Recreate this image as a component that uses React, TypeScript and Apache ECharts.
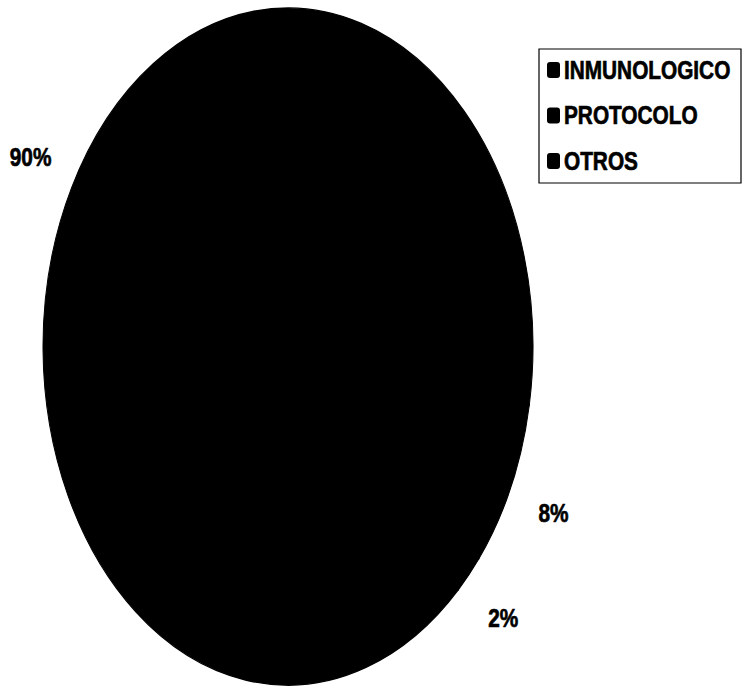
import { useEffect, useRef } from "react";
import * as echarts from "echarts";

// ---- data ----
const categories = ["INMUNOLOGICO", "PROTOCOLO", "OTROS"];
const values = [90, 8, 2];

// ---- layout / style constants ----
const START_DEG = 136; // first slice start, clockwise from 12 o'clock
const CX = 288;
const CY = 346.5;
const RX = 245;
const RY = 338.5;
const LABEL_R = 1.19;
const FONT = "'Liberation Sans', Arial, sans-serif";
const FONT_SIZE = 26;
const CONDENSE = 0.8;

// legend box
const LEG_X = 539;
const LEG_Y = 49;
const LEG_W = 202;
const LEG_H = 134;
const LEG_FIRST = 70;
const LEG_STEP = 45.5;

export default function App() {
  const ref = useRef<HTMLDivElement>(null);

  useEffect(() => {
    const chart = echarts.init(ref.current!, null, { renderer: "svg" });
    const total = values.reduce((a, b) => a + b, 0);
    const starts: number[] = [];
    let acc = 0;
    values.forEach((v) => {
      starts.push(acc);
      acc += v;
    });
    const toScreen = (deg: number) => ((deg - 90) * Math.PI) / 180;
    const textStyle = {
      fontFamily: FONT,
      fontWeight: "bold",
      fontSize: FONT_SIZE,
      fill: "#000",
      stroke: "#000",
      lineWidth: 0.7,
    };

    const series = categories.map((name, i) => ({
      type: "custom",
      name,
      coordinateSystem: "none",
      data: [[values[i]]],
      itemStyle: { color: "#000" },
      renderItem: (_params: any, api: any) => {
        const v = api.value(0) as number;
        const a0 = START_DEG + (starts[i] / total) * 360;
        const a1 = a0 + (v / total) * 360;
        const mid = (((a0 + a1) / 2) * Math.PI) / 180;
        const pct = Math.round((v / total) * 100) + "%";
        return {
          type: "group",
          children: [
            {
              type: "group",
              x: CX,
              y: CY,
              scaleY: RY / RX,
              children: [
                {
                  type: "sector",
                  shape: {
                    cx: 0,
                    cy: 0,
                    r: RX,
                    r0: 0,
                    startAngle: toScreen(a0),
                    endAngle: toScreen(a1),
                    clockwise: true,
                  },
                  style: { fill: "#000", stroke: "#000", lineWidth: 1 },
                },
              ],
            },
            {
              type: "text",
              x: CX + Math.sin(mid) * RX * LABEL_R,
              y: CY - Math.cos(mid) * RY * LABEL_R,
              scaleX: CONDENSE,
              style: {
                ...textStyle,
                text: pct,
                align: "center",
                verticalAlign: "middle",
              },
            },
          ],
        };
      },
    }));

    const legendChildren: any[] = [
      {
        type: "rect",
        shape: { x: LEG_X, y: LEG_Y, width: LEG_W, height: LEG_H },
        style: { fill: "none", stroke: "#000", lineWidth: 1.2 },
      },
    ];
    categories.forEach((name, i) => {
      const cy = LEG_FIRST + i * LEG_STEP;
      legendChildren.push({
        type: "rect",
        shape: { x: 547, y: cy - 8, width: 13, height: 16, r: 3 },
        style: { fill: "#000" },
      });
      legendChildren.push({
        type: "text",
        x: 564,
        y: cy,
        scaleX: CONDENSE,
        style: {
          ...textStyle,
          text: name,
          align: "left",
          verticalAlign: "middle",
        },
      });
    });

    chart.setOption({
      animation: false,
      backgroundColor: "#fff",
      graphic: { elements: [{ type: "group", children: legendChildren }] },
      series,
    } as any);

    return () => chart.dispose();
  }, []);

  return (
    <div
      ref={ref}
      style={{ position: "fixed", left: 0, top: 0, width: 742, height: 686 }}
    />
  );
}
